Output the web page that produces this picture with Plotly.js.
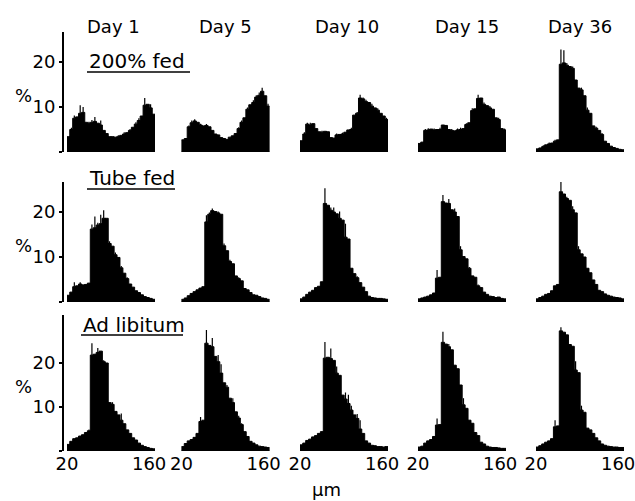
<!DOCTYPE html>
<html>
<head>
<meta charset="utf-8">
<script src="https://cdn.plot.ly/plotly-3.0.1.min.js"></script>
<style>html,body{margin:0;padding:0;background:#fff;}#chart{width:635px;height:501px;}</style>
</head>
<body>
<div id="chart"></div>
<script>
// ---- DATA ----
const sizeBinCenters = [22.5,27.5,32.5,37.5,42.5,47.5,52.5,57.5,62.5,67.5,72.5,77.5,82.5,87.5,92.5,97.5,102.5,107.5,112.5,117.5,122.5,127.5,132.5,137.5,142.5,147.5,152.5,157.5,162.5,167.5];
const days = ['Day 1','Day 5','Day 10','Day 15','Day 36'];
const groups = ['200% fed','Tube fed','Ad libitum'];
const xTickVals = [20, 160];
const yTickVals = [0, 10, 20];
const yTickText = ['', '10', '20'];

// 200% fed
const fed200_day1  = [3.4,5.0,7.5,7.8,8.6,8.8,6.6,6.4,6.6,6.8,6.4,6.0,4.8,4.1,3.4,3.4,3.3,3.4,3.7,4.0,4.3,4.8,5.5,6.2,7.0,8.0,10.4,10.6,9.8,8.4];
const fed200_day5  = [2.7,3.0,5.6,6.5,6.9,6.6,6.0,5.8,5.9,5.6,4.8,4.0,3.8,3.2,3.0,2.8,3.3,3.6,4.1,5.2,6.6,7.6,9.5,10.5,11.0,12.2,12.6,13.5,12.5,10.2];
const fed200_day10 = [2.5,4.0,6.2,6.0,6.3,5.2,4.5,4.4,4.6,4.5,3.2,3.1,3.8,3.9,4.0,4.4,4.9,5.0,8.2,8.6,12.0,11.8,11.2,11.0,10.2,9.8,9.3,8.6,8.0,7.2];
const fed200_day15 = [1.9,2.2,4.8,4.9,5.1,4.9,5.0,5.0,6.0,5.9,5.0,4.8,4.7,4.9,5.0,5.2,6.1,6.5,9.2,9.6,11.9,12.0,10.6,10.3,9.8,9.5,7.6,7.2,5.2,4.9];
const fed200_day36 = [0.7,0.9,1.2,1.6,1.8,2.0,2.4,2.7,19.5,19.8,19.3,19.0,18.6,16.0,14.2,13.8,12.5,9.3,8.6,5.8,5.3,4.8,3.9,2.4,1.9,1.3,1.0,0.8,0.6,0.5];
// Tube fed
const tube_day1  = [1.5,2.2,3.4,3.6,4.0,3.8,3.9,4.2,16.2,16.5,17.1,17.4,18.6,18.6,13.0,12.4,10.5,9.9,7.6,6.4,5.2,4.0,3.3,2.5,2.1,1.6,1.2,1.0,0.8,0.6];
const tube_day5  = [0.6,0.9,1.4,1.9,2.3,2.7,3.1,3.4,17.8,19.5,20.3,20.1,19.8,19.5,12.5,11.4,9.0,8.5,5.8,5.2,4.7,3.0,2.7,2.1,1.6,1.5,1.2,0.9,0.8,0.6];
const tube_day10 = [0.7,1.1,1.7,2.2,2.6,3.2,3.5,4.5,21.9,21.5,20.4,20.0,19.6,18.6,18.2,14.4,14.0,7.5,6.3,5.4,4.3,3.3,2.3,1.3,1.0,0.9,0.8,0.8,0.7,0.6];
const tube_day15 = [0.7,0.9,1.1,1.3,1.6,2.0,5.3,5.5,22.3,22.0,21.9,20.5,20.0,19.0,11.6,10.1,9.6,7.5,5.8,5.5,3.6,3.2,2.2,1.7,1.3,1.2,1.0,1.1,0.8,0.7];
const tube_day36 = [0.7,1.0,1.3,1.7,1.9,2.5,3.6,3.9,24.5,24.0,23.0,22.6,20.5,19.8,11.6,10.7,10.0,7.5,6.5,4.9,3.9,2.6,2.3,1.8,1.5,1.3,1.1,1.0,0.9,0.7];
// Ad libitum
const adlib_day1  = [1.5,2.2,2.8,3.0,3.4,3.7,4.2,4.6,21.8,22.0,22.4,22.7,20.3,20.0,11.0,10.6,9.0,8.2,7.0,6.2,4.8,4.0,3.0,2.5,1.8,1.3,1.0,0.8,0.6,0.5];
const adlib_day5  = [1.0,1.7,2.3,2.6,3.1,4.0,6.7,7.0,24.5,24.0,23.7,21.5,20.3,17.7,15.5,14.5,12.0,11.0,8.9,7.5,6.0,4.4,3.3,2.2,1.8,1.4,1.1,1.0,0.9,0.8];
const adlib_day10 = [1.4,1.8,2.4,2.7,3.2,3.5,4.0,4.4,21.1,21.3,21.0,20.6,17.7,17.2,12.7,11.8,10.8,9.3,8.2,7.4,5.0,4.0,2.3,1.8,1.3,1.2,1.0,1.0,0.9,1.0];
const adlib_day15 = [0.9,1.1,1.8,2.3,2.6,3.3,5.9,6.0,24.7,24.3,23.7,23.0,19.5,18.7,15.0,10.5,9.7,7.0,6.3,4.2,3.5,2.0,1.6,1.1,0.9,0.8,0.8,0.7,0.6,0.6];
const adlib_day36 = [0.9,1.2,1.6,2.0,2.3,2.8,5.5,5.7,27.3,27.0,26.4,24.2,23.8,18.4,17.8,9.3,8.8,5.2,4.8,4.0,3.0,2.3,1.6,1.3,1.1,1.0,0.9,0.9,0.8,0.8];

// upper error (SE) spikes
const fed200_day1_err  = [0,0.4,0.6,0,1.8,1.2,0,0.3,0.5,1.0,0,1.0,0,0,0,0,0,0.3,0,0.4,0,0.3,0,0.4,0.5,0,1.6,0,0.8,0];
const fed200_day5_err  = [0,0,0.3,0.5,0.4,0,0.3,0,0.3,0,0,0,0,0,0,0,0,0,0,0.3,0.4,0,0.4,0,0.5,0.4,0.6,0.8,0,0.5];
const fed200_day10_err = [0,0.4,0.3,0.5,0,0,0,0.3,0,0,0,0,0.3,0,0.3,0,0,0.4,0,0.3,0.7,0.3,0.4,0,0.5,0,0.4,0,0,0.4];
const fed200_day15_err = [0,0,0.3,0.4,0,0.3,0,0.4,0,0,0,0.3,0,0.3,0.4,0,0.3,0,0.5,0,0.8,0,0.4,0,0.4,0,0,0.4,0,0.3];
const fed200_day36_err = [0,0,0.3,0,0.3,0,0.3,0,3.3,2.8,0.5,0,0.4,0,0,0.5,0,0.6,0,0,0.3,0,0.3,0,0,0,0,0,0,0];
const tube_day1_err  = [0,0,1.0,0,0.4,0,0,0,1.0,2.5,0.5,2.0,1.8,0,0.5,0,0.5,0,0.4,0,0.3,0,0,0,0,0,0,0,0,0];
const tube_day5_err  = [0,0,0,0,0,0,0,0,1.5,0.4,0.5,0,0.3,0,0.5,0,0.4,0,0,0.3,0,0,0,0,0,0,0,0,0,0];
const tube_day10_err = [0,0,0,0,0,0,0,0,3.4,0,0.6,1.0,0,1.5,0,3.0,0,0,0,0.3,0,0,0,0,0,0,0,0,0,0];
const tube_day15_err = [0,0,0,0,0,0,1.8,0,1.5,0,1.0,0,0.8,0,0.8,0,0,0.3,0,0,0.3,0,0,0,0,0,0,0,0,0];
const tube_day36_err = [0,0,0,0,0,0,0,0,3.0,0,0.4,0,0.8,0,0.8,0,0,0,0,0,0,0,0,0,0,0,0,0,0,0];
const adlib_day1_err  = [0,0,0,0,0,0,0,0.3,2.7,0,1.0,0,0.3,0,0,0.5,0,0,1.5,0,0,0,0,0,0,0,0,0,0,0];
const adlib_day5_err  = [0,0,0,0,0,0,1.0,0,3.0,0,2.0,0,1.5,2.0,0,0.5,0,1.0,0,0.5,0.3,0,0,0,0,0,0,0,0,0];
const adlib_day10_err = [0,0,0,0,0,0,0,0,3.7,0,2.3,0,1.5,0,0,1.5,2.0,1.0,0,1.0,2.0,0,0,0,0,0,0,0,0,0];
const adlib_day15_err = [0,0,0,0,0,0,1.5,0,2.4,0,0.6,0,0,0,0,1.5,0,0,0,0,0,0,0,0,0,0,0,0,0,0];
const adlib_day36_err = [0,0,0,0,0,0,1.5,0,0.8,0,0,0,0,2.0,0,1.0,0,0,0,0,0,0,0,0,0,0,0,0,0,0];

const panels = [
  [fed200_day1, fed200_day5, fed200_day10, fed200_day15, fed200_day36],
  [tube_day1, tube_day5, tube_day10, tube_day15, tube_day36],
  [adlib_day1, adlib_day5, adlib_day10, adlib_day15, adlib_day36]
];
const panelErrs = [
  [fed200_day1_err, fed200_day5_err, fed200_day10_err, fed200_day15_err, fed200_day36_err],
  [tube_day1_err, tube_day5_err, tube_day10_err, tube_day15_err, tube_day36_err],
  [adlib_day1_err, adlib_day5_err, adlib_day10_err, adlib_day15_err, adlib_day36_err]
];

// ---- LAYOUT (pixel geometry) ----
const W = 635, H = 501;
const FONT = 'DejaVu Sans, sans-serif';
const fx = v => v / W;
const fy = v => 1 - v / H;
const colLeft = [67, 181.5, 300, 418, 536];
const colWidth = 88;
const rowBase = [152, 302, 451];
const rowTop  = [32, 182, 315];
const rowPxPerPct = [4.5, 4.5, 4.4];
const yAxisLinePx = 63;

const traces = [];
const layout = {
  width: W, height: H,
  margin: {l: 0, r: 0, t: 0, b: 0},
  paper_bgcolor: '#fff', plot_bgcolor: 'rgba(0,0,0,0)',
  showlegend: false, bargap: 0,
  font: {family: FONT, color: '#000', size: 18},
  annotations: [], shapes: []
};

for (let r = 0; r < 3; r++) {
  for (let c = 0; c < 5; c++) {
    const k = r * 5 + c + 1;
    const zeros = sizeBinCenters.map(() => 0);
    traces.push({
      type: 'bar', x: sizeBinCenters, y: panels[r][c],
      xaxis: 'x' + k, yaxis: 'y' + k, width: 5.6,
      marker: {color: '#000', line: {color: '#000', width: 1}},
      error_y: {type: 'data', symmetric: false, array: panelErrs[r][c], arrayminus: zeros,
                color: '#000', thickness: 1.2, width: 0},
      hoverinfo: 'skip'
    });
    const yMax = (rowBase[r] - rowTop[r]) / rowPxPerPct[r];
    const xa = {
      domain: [fx(colLeft[c]), fx(colLeft[c] + colWidth)],
      range: [20, 170], anchor: 'y' + k,
      showgrid: false, zeroline: false, showline: false, ticks: '',
      showticklabels: r === 2, ticklabeloverflow: 'allow',
      tickvals: xTickVals, ticktext: xTickVals.map(String),
      tickfont: {family: FONT, size: 18, color: '#000'}
    };
    if (r !== 2) xa.visible = false;
    const ya = {
      domain: [fy(rowBase[r]), fy(rowTop[r])],
      range: [0, yMax], showgrid: false, zeroline: false
    };
    if (c === 0) {
      Object.assign(ya, {
        anchor: 'free', position: fx(yAxisLinePx),
        showline: true, linecolor: '#000', linewidth: 2,
        ticks: 'outside', ticklen: 3, tickwidth: 2, tickcolor: '#000',
        tickvals: yTickVals, ticktext: yTickText,
        tickfont: {family: FONT, size: 18, color: '#000'}
      });
      layout.annotations.push({
        text: '%', xref: 'paper', yref: 'paper',
        x: fx(23), y: fy((rowBase[r] + rowTop[r]) / 2 + 3),
        showarrow: false, xanchor: 'center', yanchor: 'middle',
        font: {family: FONT, size: 18, color: '#000'}
      });
    } else {
      ya.anchor = 'x' + k;
      ya.visible = false;
    }
    layout['xaxis' + k] = xa;
    layout['yaxis' + k] = ya;
  }
}

// Day titles
const dayCenters = [113, 225, 347, 467, 580];
days.forEach((d, i) => layout.annotations.push({
  text: d, xref: 'paper', yref: 'paper', x: fx(dayCenters[i]), y: fy(26),
  showarrow: false, xanchor: 'center', yanchor: 'middle',
  font: {family: FONT, size: 18, color: '#000'}
}));

// Group labels (underlined)
const groupLeft = [87, 87, 81];
const groupMid  = [61, 178, 325];
const groupUnder = [[87, 190, 72], [87, 175, 189], [81, 183, 335]];
groups.forEach((g, i) => {
  layout.annotations.push({
    text: g, xref: 'paper', yref: 'paper', x: fx(groupLeft[i]), y: fy(groupMid[i]),
    showarrow: false, xanchor: 'left', yanchor: 'middle',
    font: {family: FONT, size: 20, color: '#000'}
  });
  const u = groupUnder[i];
  layout.shapes.push({type: 'line', xref: 'paper', yref: 'paper',
    x0: fx(u[0]), x1: fx(u[1]), y0: fy(u[2]), y1: fy(u[2]),
    line: {color: '#000', width: 1.5}});
});

// x unit label
layout.annotations.push({
  text: 'μm', xref: 'paper', yref: 'paper', x: fx(327), y: fy(489),
  showarrow: false, xanchor: 'center', yanchor: 'middle',
  font: {family: FONT, size: 18, color: '#000'}
});

Plotly.newPlot('chart', traces, layout, {displayModeBar: false, staticPlot: true});
</script>
</body>
</html>
